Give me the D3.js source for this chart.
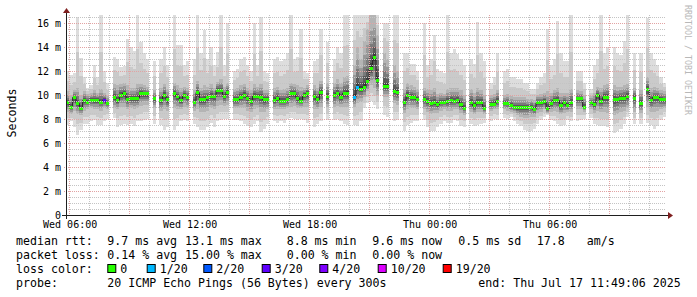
<!DOCTYPE html>
<html><head><meta charset="utf-8">
<script src="https://cdn.jsdelivr.net/npm/d3@7"></script>
<style>
html,body{margin:0;padding:0;background:#fff;}
svg{display:block;}
text{font-family:"DejaVu Sans Mono",monospace;}
</style></head><body>
<svg id="c" width="697" height="297"></svg>
<script>
// ---------------- data ----------------
const endTime = new Date(2025, 6, 17, 11, 49, 6);
const spanHours = 30;
const stepMinutes = 10;
const yMaxMs = 16.6667;
const yTicks = [0, 2, 4, 6, 8, 10, 12, 14, 16];

// median rtt per 10-minute step (ms), null = no data
const median = [
 9.35,9.0,9.8,9.3,8.9,9.55,9.4,9.55,9.55,9.55,
 9.4,9.55,9.3,null,9.8,9.55,10.0,10.15,9.6,9.7,
 9.7,9.75,10.1,10.1,10.1,null,9.7,null,9.55,10.0,
 9.6,null,10.1,9.85,9.55,10.0,9.8,null,9.4,10.2,
 9.6,9.6,9.8,9.9,9.85,10.4,10.4,9.9,10.25,null,
 9.6,9.6,9.8,10.0,9.75,9.5,9.9,9.9,9.8,9.6,
 9.6,null,9.55,9.75,9.5,9.5,9.6,10.1,10.1,9.75,
 9.5,10.0,10.15,null,9.9,9.6,10.25,null,9.9,null,
 9.95,10.15,9.83,10.15,10.15,null,9.8,10.65,10.5,10.6,
 11.1,12.2,13.1,11.25,null,10.75,10.75,null,10.3,10.2,
 null,9.36,9.97,9.8,9.8,9.6,null,9.6,9.5,9.3,
 9.4,9.2,9.4,9.4,9.45,9.55,9.5,9.55,9.2,8.9,
 null,9.4,9.1,9.4,9.4,8.9,null,9.25,9.25,9.5,
 null,9.3,9.3,9.1,9.0,8.95,8.95,9.0,8.95,9.0,
 8.8,9.35,9.35,9.45,8.85,9.3,9.55,9.55,9.1,9.35,
 9.1,9.4,null,9.7,9.7,9.0,null,9.4,9.2,10.0,
 9.5,9.8,9.8,null,9.6,9.6,9.75,9.75,9.9,null,
 9.75,null,9.3,null,10.5,9.55,9.8,9.8,9.6,9.6
];
// slowest ping per step (ms)
const pingMax = [
 12.0,11.7,11.8,16.5,13.1,11.5,10.6,10.8,12.5,11.5,
 16.7,12.0,11.0,null,13.2,13.0,12.3,12.4,14.7,14.0,
 13.7,16.7,14.4,13.5,13.0,null,12.8,null,13.0,14.0,
 12.5,null,16.7,14.2,14.2,12.5,12.8,null,13.0,16.7,
 13.5,15.4,13.0,14.0,12.5,13.6,16.7,12.5,16.0,null,
 12.0,12.2,13.0,13.2,12.5,12.0,16.0,12.5,16.5,12.0,
 11.8,null,13.0,13.2,12.8,13.0,13.5,16.7,13.0,13.2,
 15.5,12.0,11.8,null,12.8,13.0,15.5,null,14.4,null,
 13.0,14.0,13.5,16.7,16.7,null,16.7,16.7,16.7,16.7,
 16.7,16.7,16.7,16.7,null,16.0,16.0,null,16.7,16.7,
 null,13.5,13.5,12.6,12.6,12.0,null,16.0,12.5,13.0,
 15.0,12.2,12.0,11.8,16.7,13.5,13.8,13.4,13.0,12.5,
 null,13.0,12.6,16.1,13.5,12.8,null,11.0,11.5,13.5,
 null,12.0,12.2,11.5,11.5,11.3,11.3,11.0,11.0,10.5,
 10.5,11.0,11.5,11.8,15.5,12.5,13.0,16.2,13.5,12.8,
 12.8,16.7,null,12.0,12.0,11.0,null,10.5,12.5,13.0,
 16.7,13.5,14.0,null,14.0,13.5,13.3,14.5,16.7,null,
 13.5,null,13.5,null,16.4,13.5,13.0,12.5,11.5,11.0
];
// fastest ping per step (ms)
const pingMin = [
 7.5,7.8,7.3,6.7,7.1,7.6,7.6,7.8,7.9,7.5,
 7.5,7.8,8.0,null,8.1,7.3,7.5,7.6,7.5,7.6,
 7.4,7.8,7.8,7.9,8.0,null,7.6,null,7.5,7.1,
 7.3,null,7.1,7.4,7.8,7.9,7.8,null,7.6,7.3,
 7.1,7.1,7.3,7.7,7.3,7.8,7.9,8.0,8.0,null,
 7.9,7.9,7.8,7.6,7.4,7.3,7.6,7.8,6.9,7.2,
 7.6,null,7.8,7.7,7.8,7.7,8.0,8.1,8.0,7.9,
 8.0,7.9,7.7,null,7.3,7.6,7.8,null,7.9,null,
 7.9,8.0,7.8,7.6,7.5,null,7.5,7.4,7.8,8.9,
 9.3,9.5,9.2,8.8,null,8.3,8.2,null,7.8,7.9,
 null,7.0,7.5,7.7,7.8,7.8,null,7.9,7.3,7.0,
 7.0,7.3,7.6,7.8,7.7,7.7,7.9,7.8,7.4,7.3,
 null,7.6,7.4,7.5,7.6,7.7,null,7.8,8.0,7.9,
 null,8.1,8.0,8.2,7.8,7.6,7.4,7.1,7.0,7.0,
 7.2,7.6,7.9,8.2,8.3,7.9,7.8,7.6,7.4,7.5,
 7.9,7.8,null,7.8,7.9,8.0,null,8.1,7.6,7.5,
 7.4,7.4,7.3,null,6.8,7.0,7.2,7.6,8.2,null,
 7.6,null,7.6,null,7.7,7.5,7.2,7.4,7.9,8.2
];
// lower quartile-ish ping per step (ms)
const lowQ = [
 8.6,8.4,8.7,8.4,8.3,8.7,8.8,8.9,8.8,8.8,
 8.7,8.9,8.8,null,8.9,8.8,9.0,9.0,8.8,8.9,
 8.8,8.9,9.1,9.2,9.2,null,8.9,null,8.7,8.8,
 8.7,null,8.9,8.8,8.8,9.0,8.9,null,8.7,8.8,
 8.6,8.6,8.7,8.9,8.8,9.1,9.2,9.1,9.2,null,
 8.9,8.9,8.9,8.9,8.7,8.6,8.8,8.9,8.6,8.6,
 8.8,null,8.8,8.8,8.8,8.8,8.9,9.0,9.1,8.9,
 8.9,9.0,9.0,null,8.8,8.8,9.0,null,9.0,null,
 9.0,9.1,9.0,9.0,9.0,null,9.0,9.3,9.4,9.8,
 10.3,10.8,10.6,10.0,null,9.8,9.8,null,9.3,9.2,
 null,8.5,8.8,8.9,8.9,8.8,null,8.8,8.6,8.4,
 8.5,8.5,8.7,8.8,8.7,8.7,8.8,8.8,8.5,8.3,
 null,8.6,8.4,8.6,8.6,8.4,null,8.7,8.8,8.8,
 null,8.8,8.7,8.6,8.5,8.3,8.2,8.1,8.1,8.2,
 8.2,8.5,8.6,8.8,8.5,8.6,8.7,8.6,8.4,8.5,
 8.6,8.6,null,8.8,8.8,8.6,null,8.8,8.5,8.7,
 8.6,8.6,8.5,null,8.3,8.4,8.6,8.7,8.9,null,
 8.6,null,8.5,null,9.0,8.6,8.6,8.7,8.8,8.9
];
// upper quartile-ish ping per step (ms)
const highQ = [
 10.3,10.0,10.4,10.6,10.0,10.3,10.1,10.2,10.4,10.2,
 10.5,10.2,9.9,null,10.9,10.8,10.9,11.0,10.8,10.6,
 10.6,10.9,10.9,10.8,10.7,null,10.4,null,10.6,10.9,
 10.5,null,11.0,10.8,10.6,10.7,10.6,null,10.4,11.2,
 10.6,10.8,10.7,10.9,10.6,11.1,11.3,10.7,11.0,null,
 10.5,10.6,10.8,10.9,10.6,10.4,10.9,10.7,10.9,10.4,
 10.4,null,10.6,10.7,10.4,10.5,10.6,11.0,10.9,10.8,
 10.7,10.6,10.8,null,10.8,10.6,11.2,null,11.0,null,
 11.0,11.3,11.0,11.5,11.6,null,12.5,14.0,13.0,14.5,
 15.5,16.7,16.7,15.0,null,13.5,13.0,null,12.5,12.0,
 null,10.5,11.0,10.8,10.7,10.5,null,10.6,10.5,10.4,
 10.6,10.1,10.2,10.1,10.5,10.6,10.6,10.6,10.4,10.0,
 null,10.5,10.2,10.6,10.4,10.0,null,10.0,10.1,10.4,
 null,10.0,10.1,9.9,9.8,9.8,9.8,9.8,9.7,9.7,
 9.6,10.0,10.1,10.2,10.3,10.2,10.4,10.6,10.2,10.2,
 10.2,10.5,null,10.4,10.3,10.0,null,9.9,10.2,10.7,
 10.6,10.8,10.9,null,10.8,10.7,10.7,10.8,10.9,null,
 10.6,null,10.4,null,11.5,10.6,10.7,10.6,10.4,10.3
];
// lost pings (of 20) per step
const lostPings = [
 0,0,0,0,0,0,0,0,0,0, 0,3,0,0,0,0,0,0,0,0, 0,0,0,0,0,0,0,0,0,0,
 0,0,0,0,0,0,0,0,0,0, 0,0,0,0,0,0,0,0,0,0, 0,0,0,0,0,0,0,0,0,0,
 0,0,0,0,0,0,0,0,0,0, 0,0,0,0,0,0,0,0,0,0, 0,0,0,0,0,0,1,1,0,0,
 0,0,0,0,0,0,0,0,0,0, 0,0,0,0,0,0,0,0,0,0, 0,0,0,0,0,0,0,0,0,0,
 0,0,0,0,0,0,0,0,0,0, 0,0,0,0,0,0,0,0,0,0, 0,0,0,0,0,0,0,0,0,0,
 0,0,0,0,0,0,0,0,0,0, 0,0,0,0,0,0,0,0,0,0, 0,0,0,0,0,0,0,0,0,0
];
const lossLevels = [0, 1, 2, 3, 4, 10, 19];
const lossLabels = ["0", "1/20", "2/20", "3/20", "4/20", "10/20", "19/20"];
const lossColors = ["#26ff00", "#00b8ff", "#0059ff", "#5e00ff", "#7e00ff", "#dd00ff", "#ff0000"];

const rttStats = ["9.7 ms avg", "13.1 ms max", "8.8 ms min", "9.6 ms now", "0.5 ms sd", "17.8", "am/s"];
const lossStats = ["0.14 % avg", "15.00 % max", "0.00 % min", "0.00 % now"];
const probeText = "20 ICMP Echo Pings (56 Bytes) every 300s";
const endText = "end: Thu Jul 17 11:49:06 2025";
const yTitle = "Seconds";
const watermark = "RRDTOOL / TOBI OETIKER";

// ---------------- drawing ----------------
const svg = d3.select("#c");
const X0 = 66, Y0 = 215, W = 600, H = 200;
const start = new Date(endTime.getTime() - spanHours * 3600e3);
const x = d3.scaleTime().domain([start, endTime]).range([X0, X0 + W]);
const y = d3.scaleLinear().domain([0, yMaxMs]).range([Y0, Y0 - H]).clamp(true);
const colStart = j => new Date(start.getTime() + j * stepMinutes * 60e3);

svg.append("defs").append("clipPath").attr("id", "clip")
  .append("rect").attr("x", X0).attr("y", Y0 - H).attr("width", W).attr("height", H);

const plot = svg.append("g").attr("clip-path", "url(#clip)");
const lerp = (a, b, t) => a + (b - a) * t;
const ok = j => median[j] != null && pingMin[j] != null && pingMax[j] != null && lowQ[j] != null && highQ[j] != null;
const cols = d3.range(median.length).filter(ok);

const bands = [
  {c: 221, lo: j => pingMin[j], hi: j => pingMax[j]},
  {c: 202, lo: j => lerp(pingMin[j], lowQ[j], 0.5), hi: j => lerp(pingMax[j], highQ[j], 0.5)},
  {c: 180, lo: j => lowQ[j], hi: j => highQ[j]},
  {c: 152, lo: j => lerp(lowQ[j], median[j], 0.3), hi: j => lerp(highQ[j], median[j], 0.3)},
  {c: 122, lo: j => lerp(lowQ[j], median[j], 0.55), hi: j => lerp(highQ[j], median[j], 0.55)},
  {c: 90, lo: j => lerp(lowQ[j], median[j], 0.75), hi: j => lerp(highQ[j], median[j], 0.75)},
  {c: 60, lo: j => lerp(lowQ[j], median[j], 0.9), hi: j => lerp(highQ[j], median[j], 0.9)}
];
bands.forEach(b => {
  plot.append("g").attr("shape-rendering", "crispEdges")
    .selectAll("rect").data(cols).join("rect")
    .attr("x", j => x(colStart(j)))
    .attr("width", j => x(colStart(j + 1)) - x(colStart(j)))
    .attr("y", j => y(b.hi(j)))
    .attr("height", j => Math.max(0, y(b.lo(j)) - y(b.hi(j))))
    .attr("fill", d3.rgb(b.c, b.c, b.c));
});

// median line
const pts = [];
median.forEach((v, j) => {
  if (v == null) pts.push({t: colStart(j), v: null});
  else { pts.push({t: colStart(j), v}); pts.push({t: colStart(j + 1), v}); }
});
plot.append("path")
  .attr("d", d3.line().defined(d => d.v != null).x(d => x(d.t)).y(d => y(d.v))(pts))
  .attr("fill", "none").attr("stroke", "#202020").attr("stroke-width", 1);

const lossColor = n => { let k = 0; lossLevels.forEach((l, i) => { if (n >= l) k = i; }); return lossColors[k]; };
plot.append("g").attr("shape-rendering", "crispEdges")
  .selectAll("rect").data(cols).join("rect")
  .attr("x", j => x(colStart(j)))
  .attr("width", j => x(colStart(j + 1)) - x(colStart(j)))
  .attr("y", j => y(median[j]) - 1.5)
  .attr("height", 3)
  .attr("fill", j => lossColor(lostPings[j]));

// grid (on top, as rrdtool)
const grid = svg.append("g").attr("shape-rendering", "crispEdges");
const hoursMinor = d3.timeHour.every(1).range(start, endTime);
const hoursMajor = d3.timeHour.every(3).range(start, endTime);
const isMajor = t => t.getHours() % 3 === 0;
hoursMinor.filter(t => !isMajor(t)).forEach(t => {
  const px = Math.floor(x(t)) + 0.5;
  grid.append("line").attr("x1", px).attr("x2", px).attr("y1", Y0 - H).attr("y2", Y0)
    .attr("stroke", "#c4c4c4").attr("stroke-dasharray", "1,1");
});
d3.range(0.5, yMaxMs, 0.5).filter(v => v % 2 !== 0).forEach(v => {
  const py = Math.round(y(v)) + 0.5;
  grid.append("line").attr("x1", X0).attr("x2", X0 + W).attr("y1", py).attr("y2", py)
    .attr("stroke", "#c4c4c4").attr("stroke-dasharray", "1,1");
});
hoursMajor.forEach(t => {
  const px = Math.floor(x(t)) + 0.5;
  grid.append("line").attr("x1", px).attr("x2", px).attr("y1", Y0 - H).attr("y2", Y0 + 2)
    .attr("stroke", "#e2a3a3").attr("stroke-dasharray", "1,1");
});
yTicks.filter(v => v > 0).forEach(v => {
  const py = Math.round(y(v)) + 0.5;
  grid.append("line").attr("x1", X0 - 2).attr("x2", X0 + W).attr("y1", py).attr("y2", py)
    .attr("stroke", "#e2a3a3").attr("stroke-dasharray", "1,1");
});

// axes
svg.append("line").attr("x1", 62).attr("x2", 670).attr("y1", Y0 + 0.5).attr("y2", Y0 + 0.5)
  .attr("stroke", "#1f1f1f").attr("shape-rendering", "crispEdges");
svg.append("line").attr("x1", X0 + 0.5).attr("x2", X0 + 0.5).attr("y1", Y0 + 4).attr("y2", Y0 - H - 4)
  .attr("stroke", "#1f1f1f").attr("shape-rendering", "crispEdges");
svg.append("path").attr("d", `M${X0+W+2},${Y0-3}L${X0+W+2},${Y0+4}L${X0+W+7},${Y0+0.5}Z`).attr("fill", "#7f1f1f");
svg.append("path").attr("d", `M${X0-3},${Y0-H-2}L${X0+4},${Y0-H-2}L${X0+0.5},${Y0-H-7}Z`).attr("fill", "#7f1f1f");

// tick labels
const fmt = d3.timeFormat("%a %H:%M");
svg.append("g").selectAll("text").data(d3.timeHour.every(6).range(start, endTime)).join("text")
  .attr("x", d => x(d) + 0.5).attr("y", 228).attr("text-anchor", "middle")
  .attr("font-size", "10px").attr("fill", "#000").text(d => fmt(d));
svg.append("g").selectAll("text").data(yTicks).join("text")
  .attr("x", 61).attr("y", d => y(d) + 4.3).attr("text-anchor", "end")
  .attr("font-size", "10px").attr("fill", "#000").text(d => d === 0 ? "0" : d + " m");

svg.append("text").attr("transform", `translate(15.5,${(Y0 + Y0 - H) / 2 - 2}) rotate(-90)`)
  .attr("text-anchor", "middle").attr("font-size", "11.6px").attr("fill", "#000").text(yTitle);
svg.append("text").attr("transform", "translate(685,5) rotate(90)")
  .attr("font-size", "8.3px").attr("fill", "#b8b8b8").text(watermark);

// legend
const LF = "11.6px";
const lg = svg.append("g").attr("font-size", LF).attr("fill", "#000");
const rttX = [107.3, 185, 286.7, 372.3, 458.3, 536.7, 586.7];
lg.append("text").attr("x", 16).attr("y", 244.8).text("median rtt:");
rttStats.forEach((s, i) => lg.append("text").attr("x", rttX[i]).attr("y", 244.8).text(s));
lg.append("text").attr("x", 16).attr("y", 258.8).text("packet loss:");
lossStats.forEach((s, i) => lg.append("text").attr("x", rttX[i]).attr("y", 258.8).text(s));
lg.append("text").attr("x", 16).attr("y", 272.8).text("loss color:");
const boxX = [107.3, 146.7, 203.3, 261.7, 319.3, 377.7, 442.7];
lossLabels.forEach((s, i) => {
  lg.append("rect").attr("x", boxX[i] + 0.5).attr("y", 264.5).attr("width", 8).attr("height", 8)
    .attr("fill", lossColors[i]).attr("stroke", "#000").attr("stroke-width", 1);
  lg.append("text").attr("x", boxX[i] + 13).attr("y", 272.8).text(s);
});
lg.append("text").attr("x", 16).attr("y", 286.8).text("probe:");
lg.append("text").attr("x", 107.3).attr("y", 286.8).text(probeText);
lg.append("text").attr("x", 478.3).attr("y", 286.8).text(endText);
</script>
</body></html>
